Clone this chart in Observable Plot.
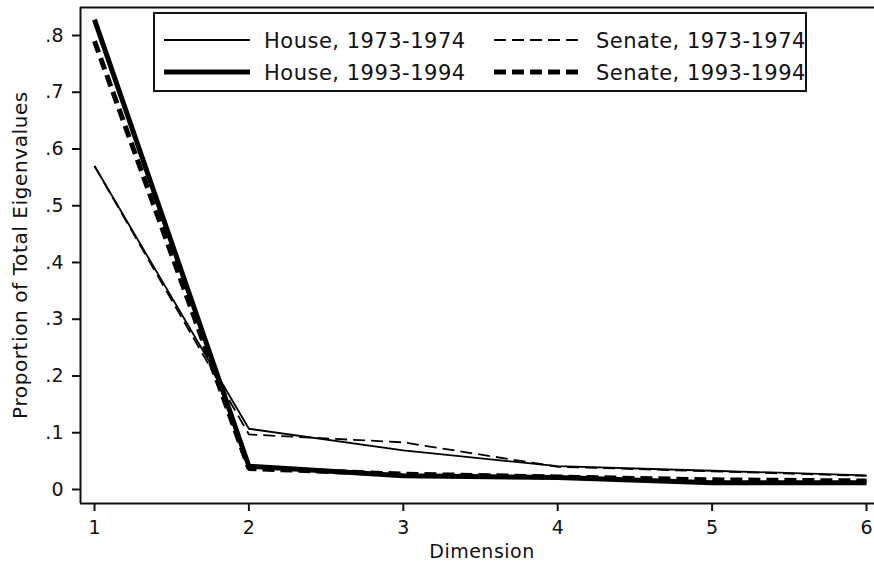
<!DOCTYPE html>
<html>
<head>
<meta charset="utf-8">
<script src="https://cdn.jsdelivr.net/npm/d3@7"></script>
<script src="https://cdn.jsdelivr.net/npm/@observablehq/plot@0.6"></script>
<style>
  html, body { margin: 0; padding: 0; background: #fff; }
  #chart svg { display: block; }
</style>
</head>
<body>
<div id="chart"></div>
<script>
// Dimensions of the scaling solution
const dims = [1, 2, 3, 4, 5, 6];

// Share of total eigenvalues per dimension, by chamber and Congress
const house1973  = [0.570, 0.107, 0.069, 0.041, 0.033, 0.025];
const senate1973 = [0.570, 0.097, 0.083, 0.040, 0.032, 0.024];
const house1993  = [0.828, 0.041, 0.024, 0.021, 0.012, 0.012];
const senate1993 = [0.790, 0.037, 0.027, 0.022, 0.017, 0.015];

const yTicks = [0, 0.1, 0.2, 0.3, 0.4, 0.5, 0.6, 0.7, 0.8];

const seriesNames = ["House, 1973-1974", "Senate, 1973-1974", "House, 1993-1994", "Senate, 1993-1994"];
const seriesValues = [house1973, senate1973, house1993, senate1993];
const seriesStyle = [
  {strokeWidth: 1.8, strokeDasharray: null},
  {strokeWidth: 1.8, strokeDasharray: "12,6"},
  {strokeWidth: 5, strokeDasharray: null},
  {strokeWidth: 5, strokeDasharray: "12,6"}
];

const rows = seriesNames.flatMap((name, i) =>
  dims.map((d, j) => ({series: name, dim: d, value: seriesValues[i][j]}))
);

const xDomain = [0.9093, 6.0518];
const yDomain = [-0.0247, 0.8493];

const fmtY = d => d === 0 ? "0" : d3.format(".1f")(d).replace(/^0/, "");

const chart = Plot.plot({
  width: 874,
  height: 563,
  marginLeft: 80,
  marginRight: 0,
  marginTop: 7,
  marginBottom: 60,
  style: {fontFamily: "'DejaVu Sans', sans-serif", fontSize: "19px", color: "#111", background: "#fff"},
  x: {domain: xDomain},
  y: {domain: yDomain},
  marks: [
    Plot.axisX({ticks: dims, tickSize: 8, tickPadding: 9, tickFormat: d3.format("d"), label: null, strokeWidth: 2}),
    Plot.axisY({ticks: yTicks, tickSize: 8, tickPadding: 9, tickFormat: fmtY, label: null, strokeWidth: 2}),
    Plot.ruleX([xDomain[0]], {stroke: "#111", strokeWidth: 2}),
    Plot.ruleY([yDomain[0]], {stroke: "#111", strokeWidth: 2}),
    Plot.ruleY([yDomain[1]], {stroke: "#111", strokeWidth: 2}),
    ...seriesNames.map((name, i) =>
      Plot.line(rows.filter(r => r.series === name), {
        x: "dim",
        y: "value",
        stroke: "#000",
        strokeWidth: seriesStyle[i].strokeWidth,
        strokeDasharray: seriesStyle[i].strokeDasharray,
        strokeLinejoin: "miter",
        strokeLinecap: "butt"
      })
    )
  ]
});

const svg = d3.select(chart);

// Axis titles
svg.append("text")
  .attr("transform", "translate(27,255) rotate(-90)")
  .attr("text-anchor", "middle")
  .attr("font-size", 20)
  .attr("letter-spacing", 0.6)
  .attr("fill", "#111")
  .text("Proportion of Total Eigenvalues");

svg.append("text")
  .attr("x", 482)
  .attr("y", 558)
  .attr("text-anchor", "middle")
  .attr("font-size", 19)
  .attr("letter-spacing", 0.5)
  .attr("fill", "#111")
  .text("Dimension");

// Legend box inside the plot area
const lg = {x: 154, y: 13, w: 652, h: 78};
svg.append("clipPath").attr("id", "legend-clip")
  .append("rect").attr("x", lg.x).attr("y", lg.y).attr("width", lg.w).attr("height", lg.h);

const legend = svg.append("g");
legend.append("rect")
  .attr("x", lg.x).attr("y", lg.y).attr("width", lg.w).attr("height", lg.h)
  .attr("fill", "#fff");

const cols = [{x1: 164, x2: 250, tx: 264}, {x1: 494, x2: 580, tx: 596}];
const rowY = [40, 72];
const inner = legend.append("g").attr("clip-path", "url(#legend-clip)");
// columns by chamber, rows by Congress
const slots = [[0, 0], [1, 0], [0, 1], [1, 1]];
seriesNames.forEach((name, i) => {
  const [c, r] = slots[i];
  inner.append("line")
    .attr("x1", cols[c].x1).attr("x2", cols[c].x2)
    .attr("y1", rowY[r]).attr("y2", rowY[r])
    .attr("stroke", "#000")
    .attr("stroke-width", seriesStyle[i].strokeWidth)
    .attr("stroke-dasharray", seriesStyle[i].strokeDasharray);
  inner.append("text")
    .attr("x", cols[c].tx).attr("y", rowY[r])
    .attr("dy", "0.36em")
    .attr("text-anchor", "start")
    .attr("font-size", 21)
    .attr("letter-spacing", 0.5)
    .attr("fill", "#111")
    .text(name);
});
legend.append("rect")
  .attr("x", lg.x).attr("y", lg.y).attr("width", lg.w).attr("height", lg.h)
  .attr("fill", "none").attr("stroke", "#111").attr("stroke-width", 2);

document.getElementById("chart").appendChild(chart);
</script>
</body>
</html>
